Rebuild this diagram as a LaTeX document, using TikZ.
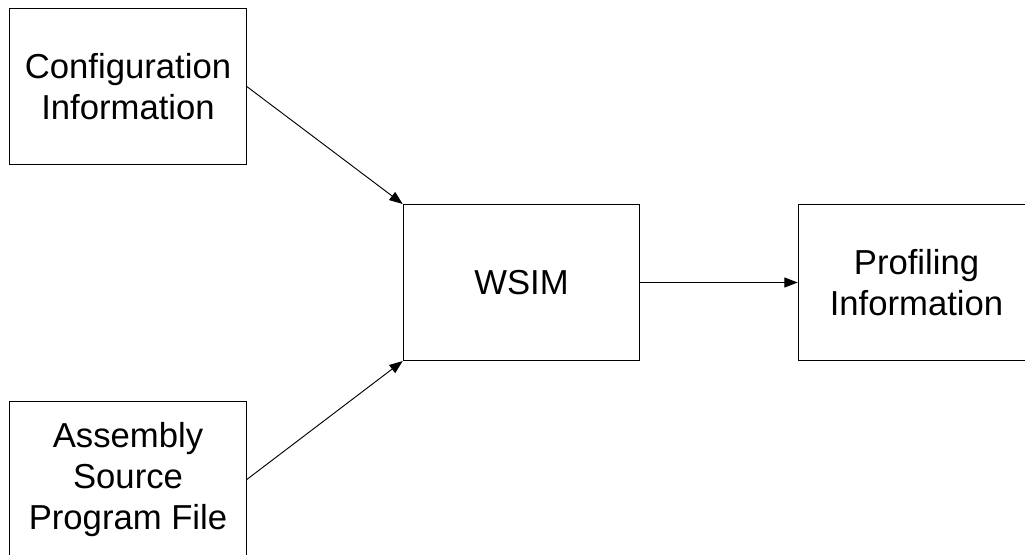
\documentclass[tikz,border=0pt]{standalone}
\usepackage{fontspec}
\setmainfont{Liberation Sans}
\usetikzlibrary{arrows.meta}
\begin{document}
\begin{tikzpicture}[x=0.75pt,y=-0.75pt,
  block/.style={draw=black, line width=0.8pt, rectangle, inner sep=0pt,
    minimum width=177.4pt, minimum height=117pt, align=center,
    font=\fontsize{26}{30.5}\selectfont},
  flow/.style={draw=black, line width=0.7pt,
    -{Triangle[length=10pt,width=7.5pt]}}]
\useasboundingbox (0,0) rectangle (1025,554);
\clip (0,0) rectangle (1025,554);
\node[block] (cfg) at (128,86.5) {Configuration\\Information};
\node[block] (asm) at (128,479.5) {Assembly\\Source\\Program File};
\node[block] (wsim) at (521.5,282.5) {WSIM};
\node[block] (prof) at (916.5,282.5) {Profiling\\Information};
\draw[flow] (cfg.east) -- (wsim.north west);
\draw[flow] (asm.east) -- (wsim.south west);
\draw[flow] (wsim.east) -- (prof.west);
\end{tikzpicture}
\end{document}
